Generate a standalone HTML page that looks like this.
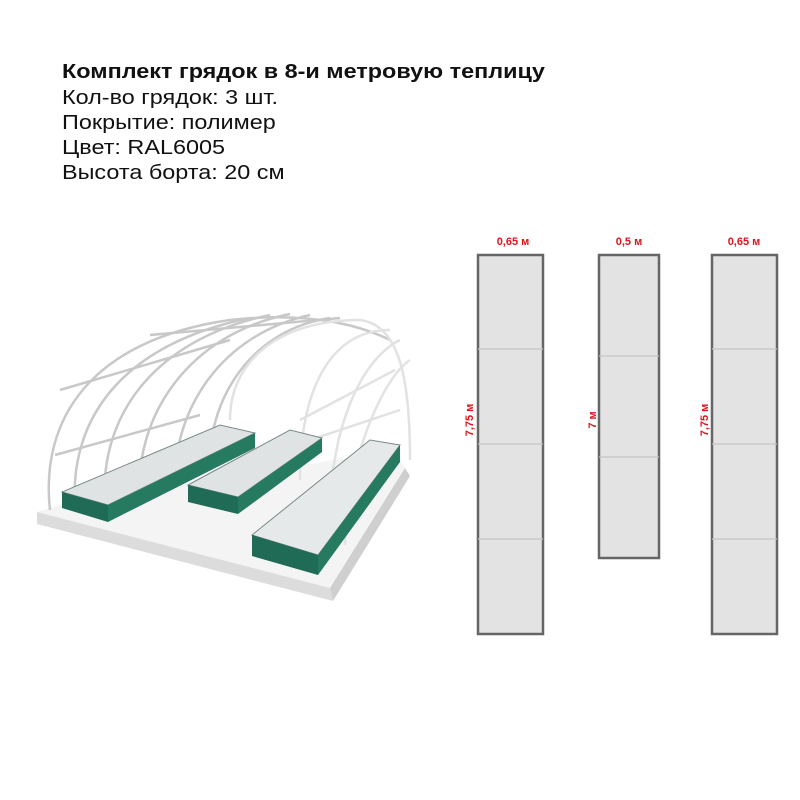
<!DOCTYPE html>
<html><head><meta charset="utf-8"><style>
body{margin:0;background:#fff;width:800px;height:800px;overflow:hidden;position:relative;font-family:"Liberation Sans",sans-serif}
.t{position:absolute;left:62px;font-size:20px;color:#111;white-space:nowrap;transform-origin:0 0;transform:scaleX(1.17)}
</style></head><body>
<div class="t" style="top:61px;font-weight:bold">Комплект грядок в 8-и метровую теплицу</div>
<div class="t" style="top:87px">Кол-во грядок: 3 шт.</div>
<div class="t" style="top:112px">Покрытие: полимер</div>
<div class="t" style="top:137px">Цвет: RAL6005</div>
<div class="t" style="top:162px">Высота борта: 20 см</div>
<svg width="800" height="800" style="position:absolute;left:0;top:0">
<polygon points="37,512 330,588 405,468 395,450 60,505" fill="#f4f4f4"/>
<polygon points="37,512 330,588 333,601 37,524" fill="#dcdcdc"/>
<polygon points="330,588 405,468 410,476 333,601" fill="#cfcfcf"/>
<g fill="none" stroke="#c8c8c8" stroke-width="2.5">
<path d="M50,510 C40,420 90,340 230,320 C320,310 370,330 390,340"/>
<path d="M75,505 C70,420 120,345 250,318"/>
<path d="M105,500 C100,420 150,340 270,315"/>
<path d="M140,495 C135,420 185,335 290,314"/>
<path d="M175,480 C175,410 220,335 310,315"/>
<path d="M210,460 C210,400 250,330 330,318"/>
<path d="M55,455 L200,415"/>
<path d="M60,390 L230,340"/>
<path d="M150,335 L340,318"/>
</g>
<g fill="none" stroke="#e2e2e2" stroke-width="2.5">
<path d="M230,420 C230,360 280,320 360,320 C400,325 410,380 410,460"/>
<path d="M300,480 C300,390 330,330 390,330"/>
<path d="M330,520 C330,430 360,360 400,340"/>
<path d="M345,545 C345,470 380,380 410,360"/>
<path d="M300,420 L395,370"/>
<path d="M310,440 L400,410"/>
</g>
<g>
<polygon points="62,492 108,505 255,433 220,425" fill="#dfe3e3" stroke="#7a8a86" stroke-width="1"/>
<polygon points="62,492 108,505 108,522 62,508" fill="#1f6b55"/>
<polygon points="108,505 255,433 255,448 108,522" fill="#267a60"/>
<polygon points="188,485 238,497 322,438 290,430" fill="#dfe3e3" stroke="#7a8a86" stroke-width="1"/>
<polygon points="188,485 238,497 238,514 188,502" fill="#1f6b55"/>
<polygon points="238,497 322,438 322,452 238,514" fill="#267a60"/>
<polygon points="252,535 318,555 400,445 370,440" fill="#e6e9e9" stroke="#7a8a86" stroke-width="1"/>
<polygon points="252,535 318,555 318,575 252,556" fill="#1f6b55"/>
<polygon points="318,555 400,445 400,462 318,575" fill="#267a60"/>
</g>
<g fill="#e3e3e3" stroke="#666" stroke-width="2.5">
<rect x="478" y="255" width="65" height="379"/>
<rect x="599" y="255" width="60" height="303"/>
<rect x="712" y="255" width="65" height="379"/>
</g>
<g stroke="#c4c4c4" stroke-width="1.2">
<line x1="478" y1="349" x2="543" y2="349"/><line x1="478" y1="444" x2="543" y2="444"/><line x1="478" y1="539" x2="543" y2="539"/>
<line x1="599" y1="356" x2="659" y2="356"/><line x1="599" y1="457" x2="659" y2="457"/>
<line x1="712" y1="349" x2="777" y2="349"/><line x1="712" y1="444" x2="777" y2="444"/><line x1="712" y1="539" x2="777" y2="539"/>
</g>
<g fill="#e0141c" font-family="Liberation Sans,sans-serif" font-size="11" font-weight="bold" text-anchor="middle">
<text x="513" y="245">0,65 м</text>
<text x="629" y="245">0,5 м</text>
<text x="744" y="245">0,65 м</text>
<text transform="translate(473,420) rotate(-90)">7,75 м</text>
<text transform="translate(596,420) rotate(-90)">7 м</text>
<text transform="translate(708,420) rotate(-90)">7,75 м</text>
</g>
</svg>
</body></html>
